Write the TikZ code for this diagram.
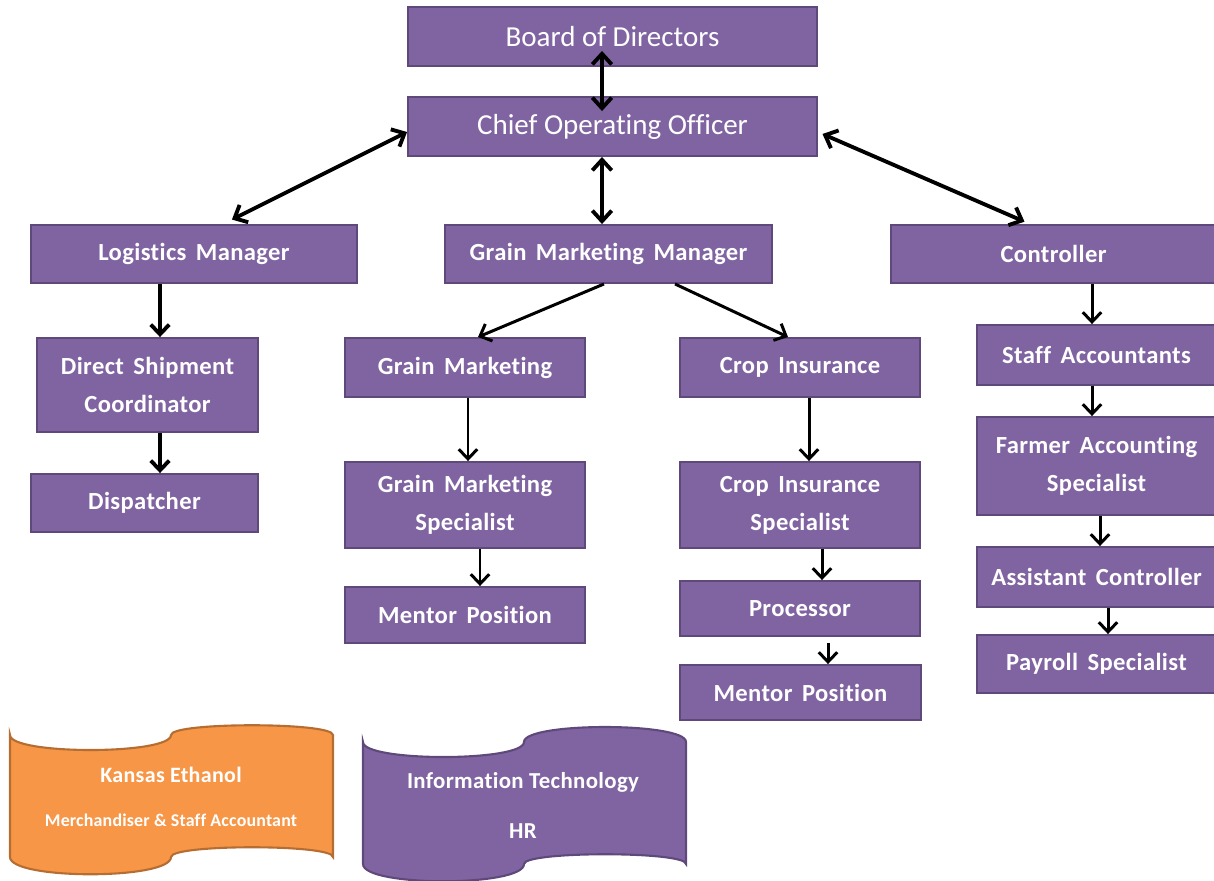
\documentclass[tikz,border=0pt]{standalone}
\usepackage{fontspec}
\setmainfont{Carlito}[Ligatures=NoCommon]
\newfontfamily\postfont{Carlito}[Ligatures=NoCommon,LetterSpace=1.5,WordSpace=1.6]
\usetikzlibrary{arrows.meta}

\definecolor{postfill}{HTML}{8064A2}
\definecolor{postline}{HTML}{5F497A}
\definecolor{tapefill}{HTML}{F79646}
\definecolor{tapeline}{HTML}{B66D31}

\tikzset{
 post/.style={draw=postline, fill=postfill, line width=1.1pt, text=white, inner sep=0pt,
   align=center, font=\postfont\bfseries\fontsize{14}{21.5}\selectfont},
 head/.style={font=\fontsize{16.5}{19}\selectfont},
 link/.style={line width=1.7pt, -{Straight Barb[length=5.5pt,width=10.5pt]}},
 biglink/.style={line width=2.2pt, {Straight Barb[length=6pt,width=11pt]}-{Straight Barb[length=6pt,width=11pt]}},
 tapetext/.style={text=white, font=\bfseries\fontsize{13}{15}\selectfont\addfontfeatures{LetterSpace=1.5}},
}

\begin{document}
\begin{tikzpicture}[x=0.02cm,y=-0.02cm]

\useasboundingbox (0,0) rectangle (1214,880);

% Top of the chart
 \node[post, head, minimum width=8.18cm, minimum height=1.18cm] (board) at (612.5,36.5) {Board of Directors};
 \node[post, head, minimum width=8.18cm, minimum height=1.18cm] (coo) at (612.5,126.5) {Chief Operating Officer};

% Managers
 \node[post, minimum width=6.52cm, minimum height=1.16cm] (logm) at (194,254) {Logistics Manager};
 \node[post, minimum width=6.54cm, minimum height=1.16cm] (gmm) at (608.5,254) {Grain Marketing Manager};
 \node[post, minimum width=6.5cm, minimum height=1.16cm] (ctrl) at (1053.5,254) {Controller};

% Logistics
 \node[post, minimum width=4.42cm, minimum height=1.88cm] (dsc) at (147.5,385) {Direct Shipment\\Coordinator};
 \node[post, minimum width=4.54cm, minimum height=1.16cm] (disp) at (144.5,503) {Dispatcher};

% Grain marketing
 \node[post, minimum width=4.8cm, minimum height=1.18cm] (gm) at (465,367.5) {Grain Marketing};
 \node[post, minimum width=4.8cm, minimum height=1.72cm] (gms) at (465,505) {Grain Marketing\\Specialist};
 \node[post, minimum width=4.8cm, minimum height=1.12cm] (gmmentor) at (465,615) {Mentor Position};

% Crop insurance
 \node[post, minimum width=4.8cm, minimum height=1.18cm] (ci) at (800,367.5) {Crop Insurance};
 \node[post, minimum width=4.8cm, minimum height=1.72cm] (cis) at (800,505) {Crop Insurance\\Specialist};
 \node[post, minimum width=4.8cm, minimum height=1.1cm] (proc) at (800,608.5) {Processor};
 \node[post, minimum width=4.82cm, minimum height=1.1cm] (cimentor) at (800.5,692.5) {Mentor Position};

% Accounting
 \node[post, minimum width=4.78cm, minimum height=1.2cm] (staff) at (1096.5,355) {Staff Accountants};
 \node[post, minimum width=4.78cm, minimum height=1.96cm] (farmer) at (1096.5,466) {Farmer Accounting\\Specialist};
 \node[post, minimum width=4.78cm, minimum height=1.2cm] (asst) at (1096.5,577) {Assistant Controller};
 \node[post, minimum width=4.78cm, minimum height=1.16cm] (payroll) at (1096.5,664) {Payroll Specialist};

% Links
 \draw[biglink, shorten <=-0.32cm, shorten >=-0.3cm] (board.south -| 602,0) -- (coo.north -| 602,0);
 \draw[biglink, shorten >=0.2cm] (coo.west |- 0,132) -- (logm.north -| 223,0);
 \draw[biglink] (coo.south -| 602,0) -- (gmm.north -| 602,0);
 \draw[biglink, shorten <=0.1cm, shorten >=0.12cm] (coo.east |- 0,132) -- (ctrl.north -| 1030,0);

 \draw[link, line width=2.2pt] (logm.south -| 160,0) -- (dsc.north -| 160,0);
 \draw[link, line width=2.2pt] (dsc.south -| 160,0) -- (disp.north -| 160,0);

 \draw[link] (gmm.south -| 604,0) -- (gm.north -| 478,0);
 \draw[link] (gmm.south -| 675,0) -- (ci.north -| 788,0);
 \draw[link] (gm.south -| 468,0) -- (gms.north -| 468,0);
 \draw[link] (gms.south -| 480,0) -- (gmmentor.north -| 480,0);
 \draw[link] (ci.south -| 809,0) -- (cis.north -| 809,0);
 \draw[link] (cis.south -| 822,0) -- (proc.north -| 822,0);
 \draw[link, shorten <=0.12cm] (proc.south -| 828,0) -- (cimentor.north -| 828,0);

 \draw[link] (ctrl.south -| 1092,0) -- (staff.north -| 1092,0);
 \draw[link] (staff.south -| 1092,0) -- (farmer.north -| 1092,0);
 \draw[link] (farmer.south -| 1100,0) -- (asst.north -| 1100,0);
 \draw[link] (asst.south -| 1108,0) -- (payroll.north -| 1108,0);

% Punched tape shapes at the bottom
 \draw[fill=tapefill, draw=tapeline, line width=1.2pt] (10,735) .. controls (10,755) and (171,755) .. (171,735)
   .. controls (171,722) and (333,722) .. (333,735) -- (333,857)
   .. controls (333,844) and (171,844) .. (171,857) .. controls (171,880) and (10,880) .. (10,857) -- cycle;
 \node[tapetext, font=\bfseries\fontsize{12.5}{14}\selectfont\addfontfeatures{LetterSpace=1.5}] (ethanol) at (171,775) {Kansas Ethanol};
 \node[tapetext, font=\bfseries\fontsize{10.2}{12}\selectfont\addfontfeatures{LetterSpace=1}] (merch) at (171,820) {Merchandiser \& Staff Accountant};

 \draw[fill=postfill, draw=postline, line width=1.2pt] (363,742) .. controls (363,762) and (524,762) .. (524,742)
   .. controls (524,722) and (686,722) .. (686,742) -- (686,864)
   .. controls (686,851) and (524,851) .. (524,864) .. controls (524,887) and (363,887) .. (363,864) -- cycle;
 \node[tapetext] (it) at (523,782) {Information Technology};
 \node[tapetext] (hr) at (523,831) {HR};

\end{tikzpicture}
\end{document}
